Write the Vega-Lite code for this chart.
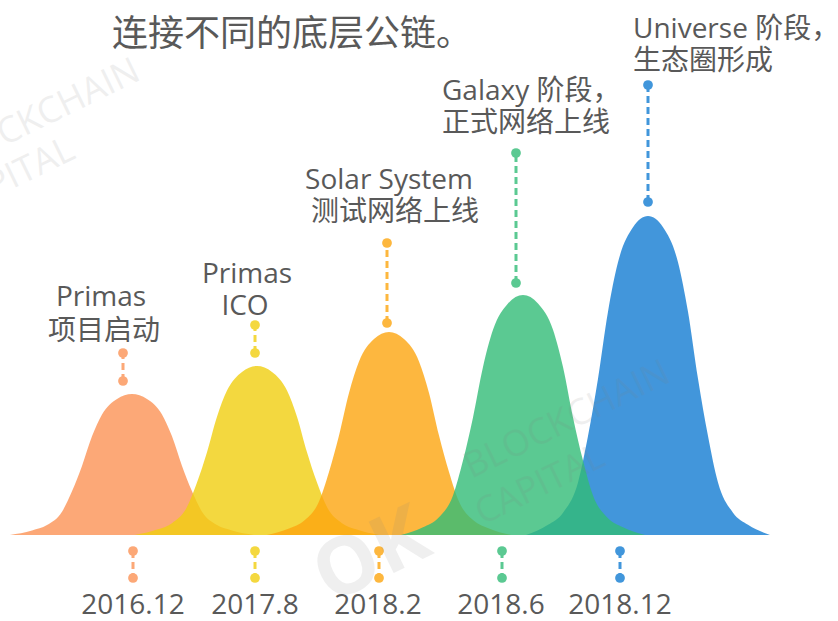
{
  "$schema": "https://vega.github.io/schema/vega-lite/v6.json",
  "width": 838,
  "height": 621,
  "padding": 0,
  "autosize": {"type": "none"},
  "background": "white",
  "config": {"view": {"stroke": null}},
  "datasets": {
    "curves": [
      {"stage": "Primas", "x": 10, "v": 0}, {"stage": "Primas", "x": 32, "v": 4.5}, {"stage": "Primas", "x": 47, "v": 9.9}, {"stage": "Primas", "x": 62, "v": 23.3}, {"stage": "Primas", "x": 72, "v": 43.7}, {"stage": "Primas", "x": 82, "v": 69.1}, {"stage": "Primas", "x": 92, "v": 98.7}, {"stage": "Primas", "x": 102, "v": 120.6}, {"stage": "Primas", "x": 117, "v": 136.1}, {"stage": "Primas", "x": 132, "v": 141}, {"stage": "Primas", "x": 147, "v": 136.1}, {"stage": "Primas", "x": 162, "v": 120.6}, {"stage": "Primas", "x": 172, "v": 98.7}, {"stage": "Primas", "x": 182, "v": 69.1}, {"stage": "Primas", "x": 192, "v": 43.7}, {"stage": "Primas", "x": 202, "v": 23.3}, {"stage": "Primas", "x": 217, "v": 9.9}, {"stage": "Primas", "x": 232, "v": 4.5}, {"stage": "Primas", "x": 254, "v": 0},
      {"stage": "ICO", "x": 135, "v": 0}, {"stage": "ICO", "x": 157, "v": 5.4}, {"stage": "ICO", "x": 172, "v": 11.8}, {"stage": "ICO", "x": 187, "v": 27.9}, {"stage": "ICO", "x": 197, "v": 52.4}, {"stage": "ICO", "x": 207, "v": 82.8}, {"stage": "ICO", "x": 217, "v": 118.3}, {"stage": "ICO", "x": 227, "v": 144.5}, {"stage": "ICO", "x": 242, "v": 163.1}, {"stage": "ICO", "x": 257, "v": 169}, {"stage": "ICO", "x": 272, "v": 163.1}, {"stage": "ICO", "x": 287, "v": 144.5}, {"stage": "ICO", "x": 297, "v": 118.3}, {"stage": "ICO", "x": 307, "v": 82.8}, {"stage": "ICO", "x": 317, "v": 52.4}, {"stage": "ICO", "x": 327, "v": 27.9}, {"stage": "ICO", "x": 342, "v": 11.8}, {"stage": "ICO", "x": 357, "v": 5.4}, {"stage": "ICO", "x": 379, "v": 0},
      {"stage": "Solar", "x": 267, "v": 0}, {"stage": "Solar", "x": 289, "v": 6.5}, {"stage": "Solar", "x": 304, "v": 14.2}, {"stage": "Solar", "x": 319, "v": 33.5}, {"stage": "Solar", "x": 329, "v": 62.9}, {"stage": "Solar", "x": 339, "v": 99.5}, {"stage": "Solar", "x": 349, "v": 142.1}, {"stage": "Solar", "x": 359, "v": 173.6}, {"stage": "Solar", "x": 374, "v": 195.9}, {"stage": "Solar", "x": 389, "v": 203}, {"stage": "Solar", "x": 404, "v": 195.9}, {"stage": "Solar", "x": 419, "v": 173.6}, {"stage": "Solar", "x": 429, "v": 142.1}, {"stage": "Solar", "x": 439, "v": 99.5}, {"stage": "Solar", "x": 449, "v": 62.9}, {"stage": "Solar", "x": 459, "v": 33.5}, {"stage": "Solar", "x": 474, "v": 14.2}, {"stage": "Solar", "x": 489, "v": 6.5}, {"stage": "Solar", "x": 511, "v": 0},
      {"stage": "Galaxy", "x": 401, "v": 0}, {"stage": "Galaxy", "x": 423, "v": 7.7}, {"stage": "Galaxy", "x": 438, "v": 16.8}, {"stage": "Galaxy", "x": 453, "v": 39.6}, {"stage": "Galaxy", "x": 463, "v": 74.4}, {"stage": "Galaxy", "x": 473, "v": 117.6}, {"stage": "Galaxy", "x": 483, "v": 168}, {"stage": "Galaxy", "x": 493, "v": 205.2}, {"stage": "Galaxy", "x": 508, "v": 231.6}, {"stage": "Galaxy", "x": 523, "v": 240}, {"stage": "Galaxy", "x": 538, "v": 231.6}, {"stage": "Galaxy", "x": 553, "v": 205.2}, {"stage": "Galaxy", "x": 563, "v": 168}, {"stage": "Galaxy", "x": 573, "v": 117.6}, {"stage": "Galaxy", "x": 583, "v": 74.4}, {"stage": "Galaxy", "x": 593, "v": 39.6}, {"stage": "Galaxy", "x": 608, "v": 16.8}, {"stage": "Galaxy", "x": 623, "v": 7.7}, {"stage": "Galaxy", "x": 645, "v": 0},
      {"stage": "Universe", "x": 526, "v": 0}, {"stage": "Universe", "x": 548, "v": 10.2}, {"stage": "Universe", "x": 563, "v": 22.3}, {"stage": "Universe", "x": 578, "v": 52.6}, {"stage": "Universe", "x": 588, "v": 98.9}, {"stage": "Universe", "x": 598, "v": 156.3}, {"stage": "Universe", "x": 608, "v": 223.3}, {"stage": "Universe", "x": 618, "v": 272.7}, {"stage": "Universe", "x": 633, "v": 307.8}, {"stage": "Universe", "x": 648, "v": 319}, {"stage": "Universe", "x": 663, "v": 307.8}, {"stage": "Universe", "x": 678, "v": 272.7}, {"stage": "Universe", "x": 688, "v": 223.3}, {"stage": "Universe", "x": 698, "v": 156.3}, {"stage": "Universe", "x": 708, "v": 98.9}, {"stage": "Universe", "x": 718, "v": 52.6}, {"stage": "Universe", "x": 733, "v": 22.3}, {"stage": "Universe", "x": 748, "v": 10.2}, {"stage": "Universe", "x": 770, "v": 0}
    ],
    "stems": [
      {"stage": "Primas", "x": 123, "v1": 154, "v2": 182},
      {"stage": "ICO", "x": 255, "v1": 182, "v2": 210},
      {"stage": "Solar", "x": 387, "v1": 212, "v2": 292},
      {"stage": "Galaxy", "x": 516, "v1": 252, "v2": 382},
      {"stage": "Universe", "x": 648, "v1": 333, "v2": 450},
      {"stage": "Primas", "x": 133, "v1": -16, "v2": -43},
      {"stage": "ICO", "x": 255, "v1": -16, "v2": -43},
      {"stage": "Solar", "x": 379, "v1": -16, "v2": -43},
      {"stage": "Galaxy", "x": 502, "v1": -16, "v2": -43},
      {"stage": "Universe", "x": 620, "v1": -16, "v2": -43}
    ],
    "dates": [
      {"label": "2016.12", "x": 133, "v": -71},
      {"label": "2017.8", "x": 255, "v": -71},
      {"label": "2018.2", "x": 378, "v": -71},
      {"label": "2018.6", "x": 501, "v": -71},
      {"label": "2018.12", "x": 620, "v": -71}
    ],
    "captionsCenter": [
      {"text": "Primas", "x": 101, "v": 237},
      {"text": "项目启动", "x": 104, "v": 203},
      {"text": "Primas", "x": 247, "v": 260},
      {"text": "ICO", "x": 245, "v": 228},
      {"text": "Solar System", "x": 389, "v": 354},
      {"text": "测试网络上线", "x": 395, "v": 322}
    ],
    "captionsLeft": [
      {"text": "Galaxy 阶段，", "x": 442, "v": 443},
      {"text": "正式网络上线", "x": 442, "v": 411},
      {"text": "Universe 阶段，", "x": 633, "v": 505},
      {"text": "生态圈形成", "x": 633, "v": 473}
    ],
    "title": [{"text": "连接不同的底层公链。", "x": 112, "v": 500}],
    "watermark": [
      {"text": "BLOCKCHAIN", "x": 567, "v": 115},
      {"text": "CAPITAL", "x": 540, "v": 50},
      {"text": "BLOCKCHAIN", "x": 37, "v": 417},
      {"text": "CAPITAL", "x": 10, "v": 357}
    ],
    "watermarkBig": [{"text": "OK", "x": 372, "v": -22}]
  },
  "encoding": {
    "x": {"field": "x", "type": "quantitative", "scale": {"domain": [0, 838], "nice": false, "zero": false}, "axis": null},
    "y": {"field": "v", "type": "quantitative", "scale": {"domain": [-86, 535], "nice": false, "zero": false}, "axis": null}
  },
  "layer": [
    {"data": {"name": "curves"}, "transform": [{"filter": "datum.stage === 'Primas'"}], "mark": {"type": "area", "interpolate": "monotone", "color": "#FB9255", "opacity": 0.8}, "encoding": {"y2": {"datum": 0}}},
    {"data": {"name": "curves"}, "transform": [{"filter": "datum.stage === 'ICO'"}], "mark": {"type": "area", "interpolate": "monotone", "color": "#F0CE0F", "opacity": 0.8}, "encoding": {"y2": {"datum": 0}}},
    {"data": {"name": "curves"}, "transform": [{"filter": "datum.stage === 'Solar'"}], "mark": {"type": "area", "interpolate": "monotone", "color": "#FCA50F", "opacity": 0.8}, "encoding": {"y2": {"datum": 0}}},
    {"data": {"name": "curves"}, "transform": [{"filter": "datum.stage === 'Universe'"}], "mark": {"type": "area", "interpolate": "monotone", "color": "#137CD2", "opacity": 0.8}, "encoding": {"y2": {"datum": 0}}},
    {"data": {"name": "curves"}, "transform": [{"filter": "datum.stage === 'Galaxy'"}], "mark": {"type": "area", "interpolate": "monotone", "color": "#32BC77", "opacity": 0.8}, "encoding": {"y2": {"datum": 0}}},
    {"data": {"name": "stems"}, "mark": {"type": "rule", "strokeWidth": 3, "strokeDash": [7, 4]},
     "encoding": {"y": {"field": "v1", "type": "quantitative"}, "y2": {"field": "v2"},
       "color": {"field": "stage", "type": "nominal", "legend": null, "scale": {"domain": ["Primas", "ICO", "Solar", "Galaxy", "Universe"], "range": ["#FCA877", "#F4D83F", "#FDB73E", "#5BC992", "#4196DB"]}}}},
    {"data": {"name": "stems"}, "mark": {"type": "circle", "size": 95, "opacity": 1},
     "encoding": {"y": {"field": "v1", "type": "quantitative"}, "color": {"field": "stage", "type": "nominal", "legend": null}}},
    {"data": {"name": "stems"}, "mark": {"type": "circle", "size": 95, "opacity": 1},
     "encoding": {"y": {"field": "v2", "type": "quantitative"}, "color": {"field": "stage", "type": "nominal", "legend": null}}},
    {"data": {"name": "dates"}, "mark": {"type": "text", "font": "Open Sans, Noto Sans CJK SC", "fontSize": 28, "color": "#595959", "align": "center", "baseline": "middle"},
     "encoding": {"text": {"field": "label"}}},
    {"data": {"name": "captionsCenter"}, "mark": {"type": "text", "font": "Open Sans, Noto Sans CJK SC", "fontSize": 28, "color": "#595959", "align": "center", "baseline": "middle"},
     "encoding": {"text": {"field": "text"}}},
    {"data": {"name": "captionsLeft"}, "mark": {"type": "text", "font": "Open Sans, Noto Sans CJK SC", "fontSize": 28, "color": "#595959", "align": "left", "baseline": "middle"},
     "encoding": {"text": {"field": "text"}}},
    {"data": {"name": "title"}, "mark": {"type": "text", "font": "Open Sans, Noto Sans CJK SC", "fontSize": 36, "color": "#595959", "align": "left", "baseline": "middle"},
     "encoding": {"text": {"field": "text"}}},
    {"data": {"name": "watermark"}, "mark": {"type": "text", "font": "Open Sans", "fontSize": 36, "color": "#808080", "opacity": 0.12, "angle": 334, "align": "center", "baseline": "middle"},
     "encoding": {"text": {"field": "text"}}},
    {"data": {"name": "watermarkBig"}, "mark": {"type": "text", "font": "Open Sans", "fontSize": 80, "fontWeight": "bold", "color": "#808080", "opacity": 0.12, "angle": 334, "align": "center", "baseline": "middle"},
     "encoding": {"text": {"field": "text"}}}
  ]
}
